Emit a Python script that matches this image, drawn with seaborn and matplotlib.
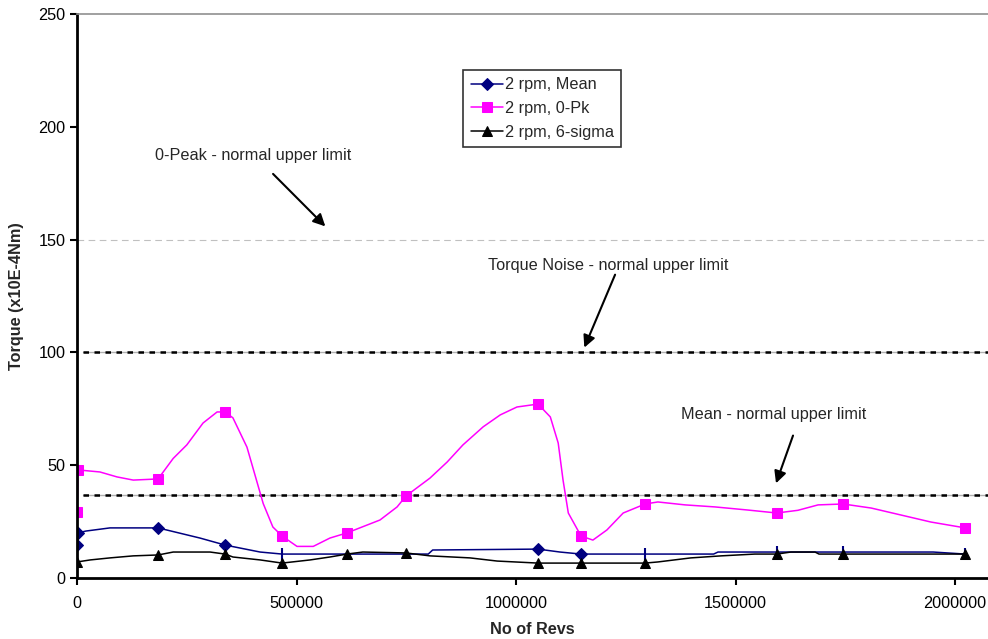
import matplotlib
matplotlib.use("Agg")
import matplotlib.pyplot as plt
import seaborn as sns

# Torque data
pk_revs = [0, 2300, 52000, 91000, 128000, 184500, 219000, 250000, 287000, 319000,
           337000, 355000, 387000, 424000, 446000, 467000, 501000, 538000, 576000, 615000,
           690000, 729000, 749000, 804000, 843000, 879000, 925000, 964000, 1002000, 1050000,
           1078000, 1096000, 1107000, 1119000, 1148000, 1175000, 1207000, 1244000, 1294000, 1323000,
           1385000, 1453000, 1529000, 1594000, 1642000, 1688000, 1745000, 1809000, 1945000, 2023000]
pk_vals = [29.3, 47.9, 47.0, 44.8, 43.4, 43.9, 53.0, 59.0, 68.7, 73.6,
           73.6, 71.0, 58.0, 33.0, 22.6, 18.6, 14.0, 14.0, 17.7, 20.0,
           25.7, 31.5, 36.3, 44.3, 51.4, 59.0, 67.0, 72.3, 75.8, 77.1,
           71.4, 59.8, 43.4, 28.8, 18.6, 16.8, 21.3, 28.8, 32.8, 33.7,
           32.4, 31.5, 30.1, 28.8, 30.0, 32.4, 32.8, 31.0, 24.8, 22.2]
pk_marks = [0, 1, 5, 10, 15, 19, 22, 29, 34, 38, 43, 46, 49]

mean_revs = [0, 2300, 20000, 75000, 184500, 280000, 337000, 417000, 467000, 800000,
             810000, 1050000, 1100000, 1148000, 1294000, 1450000, 1460000, 1594000, 1745000, 1950000,
             2023000]
mean_vals = [14.6, 20.0, 20.8, 22.2, 22.2, 17.7, 14.6, 11.5, 10.6, 10.6,
             12.4, 12.8, 11.5, 10.6, 10.6, 10.6, 11.5, 11.5, 11.5, 11.5,
             10.6]
mean_marks = [0, 1, 4, 6, 11, 13]
mean_ticks = [8, 14, 17, 18, 20]

sig_revs = [0, 30000, 75000, 128000, 184500, 219000, 303000, 337000, 355000, 417000,
            467000, 531000, 576000, 615000, 651000, 749000, 804000, 895000, 957000, 1050000,
            1148000, 1294000, 1323000, 1398000, 1467000, 1544000, 1594000, 1626000, 1681000, 1690000,
            1745000, 2023000]
sig_vals = [7.1, 8.0, 8.9, 9.8, 10.2, 11.5, 11.5, 10.6, 9.3, 8.0,
            6.6, 8.0, 9.3, 10.6, 11.5, 11.1, 9.8, 8.9, 7.5, 6.6,
            6.6, 6.6, 7.1, 8.9, 9.8, 10.6, 10.6, 11.5, 11.5, 10.6,
            10.6, 10.6]
sig_marks = [0, 4, 7, 10, 13, 15, 19, 20, 21, 26, 30, 31]

# normal upper limits
peak_limit = 150
noise_limit = 100
mean_limit = 37

sns.set_style("white")
plt.rcParams['font.family'] = ['Liberation Sans', 'DejaVu Sans']
FS = 11.7

fig = plt.figure(figsize=(9.88, 6.39), dpi=100)
ax = fig.add_axes([0.078, 0.0955, 0.922, 0.8825])

# limit lines
ax.plot([0, 2100000], [peak_limit, peak_limit], color='#c0c0c0', lw=0.8, dashes=(6, 4))
for lim in [noise_limit, mean_limit]:
    ax.plot([14000, 2100000], [lim, lim], color='#b0b0b0', lw=1.0)
    ax.plot([14000, 2100000], [lim, lim], color='black', lw=1.8, dashes=(2.2, 2.2))

sns.lineplot(x=mean_revs, y=mean_vals, ax=ax, color='#000080', lw=1.1, sort=False,
             marker='D', markersize=6, markevery=mean_marks, markeredgecolor='#000080',
             label='2 rpm, Mean')
ax.plot(mean_revs, mean_vals, ls='none', marker='|', markersize=9, markeredgewidth=1.5,
        color='#000080', markevery=mean_ticks)
sns.lineplot(x=pk_revs, y=pk_vals, ax=ax, color='#ff00ff', lw=1.1, sort=False,
             marker='s', markersize=7, markevery=pk_marks, markeredgecolor='#ff00ff',
             label='2 rpm, 0-Pk')
sns.lineplot(x=sig_revs, y=sig_vals, ax=ax, color='black', lw=1.1, sort=False,
             marker='^', markersize=7, markevery=sig_marks, markeredgecolor='black',
             label='2 rpm, 6-sigma')

ax.set_xlim(0, 2075000)
ax.set_ylim(0, 250)
ax.set_xticks([0, 500000, 1000000, 1500000, 2000000])
ax.set_xticklabels(['0', '500000', '1000000', '1500000', '2000000'])
ax.set_yticks([0, 50, 100, 150, 200, 250])
ax.tick_params(axis='both', direction='out', length=5, width=1.5, labelsize=FS,
               colors='black', bottom=True, left=True)
ax.tick_params(axis='x', pad=8)
for s in ['left', 'bottom']:
    ax.spines[s].set_color('black')
    ax.spines[s].set_linewidth(2)
ax.spines['top'].set_color('#909090')
ax.spines['top'].set_linewidth(1.2)
ax.spines['right'].set_visible(False)

ax.set_xlabel('No of Revs', fontsize=FS, fontweight='bold', labelpad=8)
ax.set_ylabel('Torque (x10E-4Nm)', fontsize=FS, fontweight='bold', labelpad=10)

# annotations with arrows
arrow = dict(arrowstyle='-|>', color='black', lw=1.5, mutation_scale=18)
ax.annotate('', xy=(570000, 155), xytext=(442000, 180), arrowprops=arrow)
ax.text(401000, 187.5, '0-Peak - normal upper limit', fontsize=FS, ha='center', va='center')
ax.annotate('', xy=(1153000, 101), xytext=(1228000, 135.6), arrowprops=arrow)
ax.text(1210000, 138.7, 'Torque Noise - normal upper limit', fontsize=FS, ha='center', va='center')
ax.annotate('', xy=(1590000, 40.8), xytext=(1633000, 64.3), arrowprops=arrow)
ax.text(1587000, 72.3, 'Mean - normal upper limit', fontsize=FS, ha='center', va='center')

leg = ax.legend(loc='upper left', bbox_to_anchor=(0.424, 0.901), borderaxespad=0,
                fontsize=FS, frameon=True, fancybox=False, edgecolor='black',
                handlelength=2.0, handletextpad=0.1, labelspacing=0.55, borderpad=0.45)
leg.get_frame().set_linewidth(1.2)

fig.savefig('out.png', dpi=100)
